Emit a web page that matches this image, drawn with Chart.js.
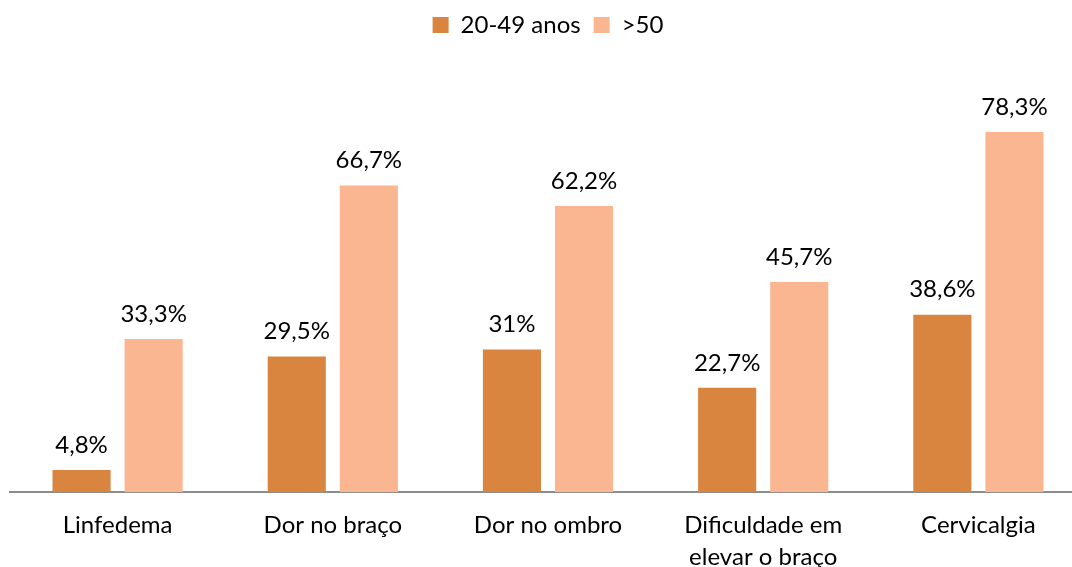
<!DOCTYPE html>
<html>
<head>
<meta charset="utf-8">
<script src="https://cdn.jsdelivr.net/npm/chart.js@4"></script>
<style>
  html, body { margin: 0; padding: 0; background: #fff; overflow: hidden; }
  #wrap { width: 1090px; height: 582px; }
</style>
</head>
<body>
<div id="wrap"><canvas id="chart"></canvas></div>
<script>
const categories = ["Linfedema", "Dor no braço", "Dor no ombro", ["Dificuldade em", "elevar o braço"], "Cervicalgia"];
const young = [4.8, 29.5, 31, 22.7, 38.6];
const older = [33.3, 66.7, 62.2, 45.7, 78.3];
const seriesNames = ["20-49 anos", ">50"];

const FONT = "Lato";

// labels above bars, comma decimals
const valueLabels = {
  id: "valueLabels",
  afterDatasetsDraw(chart) {
    const ctx = chart.ctx;
    ctx.save();
    ctx.font = "24px " + FONT;
    ctx.fillStyle = "#000";
    ctx.textAlign = "center";
    ctx.textBaseline = "bottom";
    chart.data.datasets.forEach((ds, i) => {
      chart.getDatasetMeta(i).data.forEach((bar, j) => {
        const txt = String(ds.data[j]).replace(".", ",") + "%";
        ctx.fillText(txt, bar.x, bar.y - 13);
      });
    });
    ctx.restore();
  }
};

new Chart(document.getElementById("chart"), {
  type: "bar",
  data: {
    labels: categories,
    datasets: [{
      label: seriesNames[0],
      data: young,
      backgroundColor: "#D9843F"
    }, {
      label: seriesNames[1],
      data: older,
      backgroundColor: "#F9B691"
    }]
  },
  options: {
    responsive: true,
    maintainAspectRatio: false,
    animation: false,
    categoryPercentage: 0.67,
    barPercentage: 0.806,
    layout: { padding: { left: 10, right: 4, top: 0, bottom: 0 } },
    plugins: {
      legend: {
        position: "top",
        labels: {
          font: { family: FONT, size: 24 },
          color: "#000",
          boxWidth: 16,
          boxHeight: 16,
          padding: 13
        }
      },
      tooltip: { enabled: false }
    },
    scales: {
      x: {
        grid: { display: false },
        border: { display: true, color: "#8C8C8C", width: 2 },
        ticks: { font: { family: FONT, size: 24, lineHeight: 1.33 }, color: "#000", padding: 9 }
      },
      y: {
        display: false,
        min: 0,
        max: 96.8
      }
    }
  },
  plugins: [valueLabels]
});
</script>
</body>
</html>
